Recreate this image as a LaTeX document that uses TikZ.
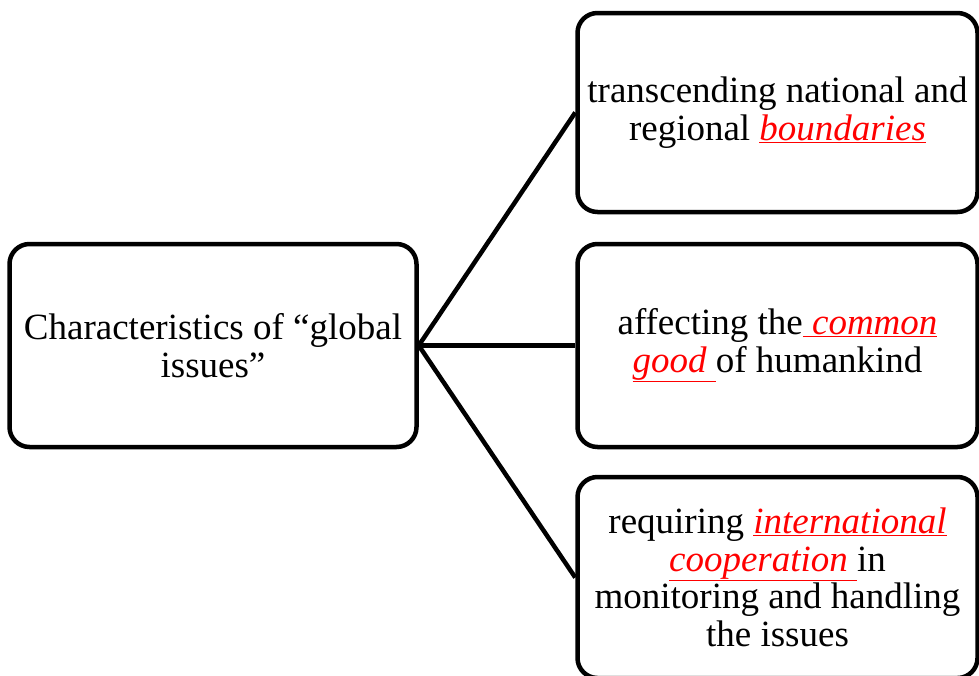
\documentclass[tikz,border=0pt]{standalone}
\usepackage{fontspec}
\setmainfont{Liberation Serif}
\newcommand{\rdu}[1]{\textcolor{red}{\underline{\textit{#1}}}}
\tikzset{
  box/.style={draw=black, line width=4.5pt, rounded corners=20pt, fill=white,
    align=center, inner sep=0pt, font=\fontsize{37}{37.5}\selectfont},
  conn/.style={draw=black, line width=4.5pt}
}
\begin{document}
\begin{tikzpicture}[x=1pt,y=-1pt]
\useasboundingbox (0,0) rectangle (979,675);
\node[box, minimum width=407pt, minimum height=203pt] (L) at (213,345.5)
  {Characteristics of “global\\issues”};
\node[box, minimum width=400pt, minimum height=199pt] (T) at (777.5,112.5)
  {transcending national and\\regional \rdu{boundaries}};
\node[box, minimum width=400pt, minimum height=203pt] (M) at (777.5,345.5)
  {affecting the\rdu{\ common}\\\rdu{good\ }of humankind};
\node[box, minimum width=400pt, minimum height=201pt] (B) at (777.5,577.5)
  {requiring \rdu{international}\\\rdu{cooperation\ }in\\monitoring and handling\\the issues};
\draw[conn] (L.east) -- (T.west);
\draw[conn] (L.east) -- (M.west);
\draw[conn] (L.east) -- (B.west);
\end{tikzpicture}
\end{document}
